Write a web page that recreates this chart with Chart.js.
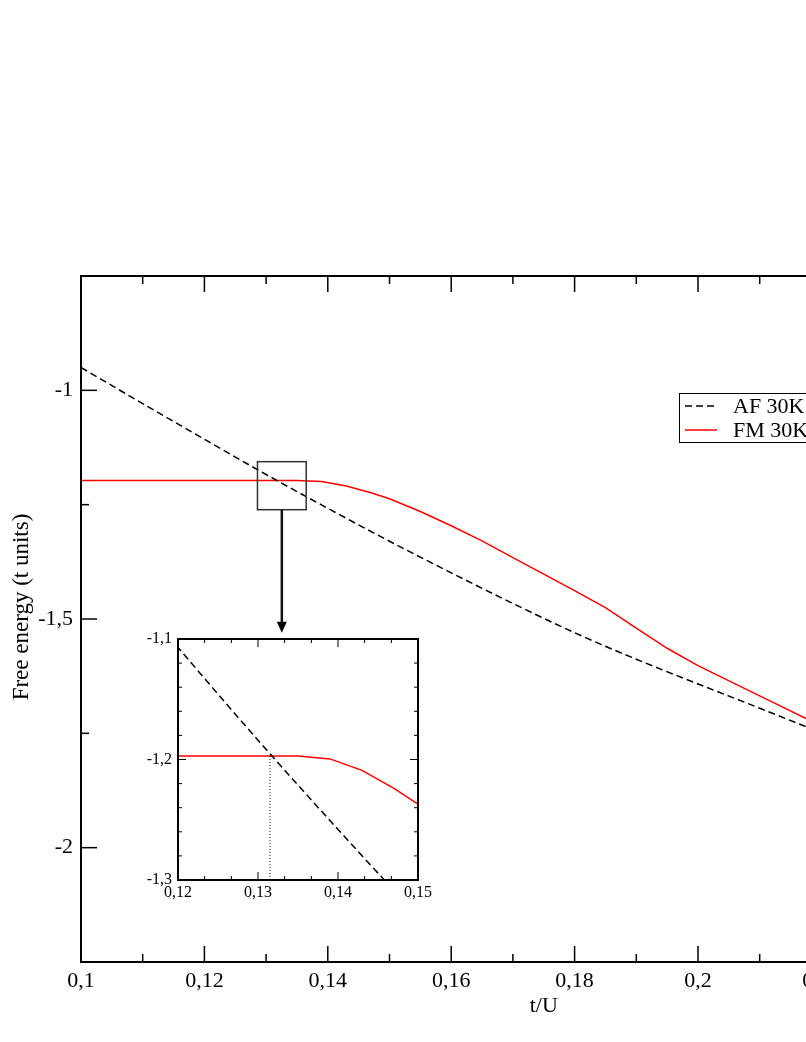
<!DOCTYPE html>
<html><head><meta charset="utf-8">
<script src="https://cdn.jsdelivr.net/npm/chart.js@4.4.1/dist/chart.umd.min.js"></script>
<style>
html,body{margin:0;padding:0;overflow:hidden;background:#fff;width:806px;height:1042px;}
#main{position:absolute;left:0;top:0;}
#inset{position:absolute;left:130px;top:620px;}
</style></head><body>
<canvas id="main" width="1040" height="1042"></canvas>
<canvas id="inset" width="310" height="290"></canvas>
<script>
// ---- data ----
const afT = [0.10,0.11,0.12,0.13,0.14,0.15,0.16,0.17,0.18,0.19,0.20,0.21,0.22];
const afF = [-0.950,-1.029,-1.107,-1.184,-1.258,-1.330,-1.399,-1.466,-1.530,-1.588,-1.642,-1.695,-1.749];
const fmT = [0.10,0.135,0.139,0.143,0.147,0.150,0.155,0.160,0.165,0.170,0.175,0.180,0.185,0.190,0.195,0.200,0.210,0.220];
const fmF = [-1.197,-1.197,-1.1995,-1.209,-1.224,-1.237,-1.265,-1.296,-1.329,-1.366,-1.402,-1.438,-1.475,-1.520,-1.564,-1.602,-1.668,-1.734];
const seriesNames = ['AF 30K','FM 30K'];
const xTitle = 't/U';
const yTitle = 'Free energy (t units)';

const xMajorMain = [0.10,0.12,0.14,0.16,0.18,0.20,0.22,0.24];
const xMinorMain = [0.11,0.13,0.15,0.17,0.19,0.21,0.23];
const yMajorMain = [-2,-1.5,-1];
const yMinorMain = [-1.75,-1.25];

const xMajorInset = [0.12,0.13,0.14,0.15];
const xMinorInset = [0.12333,0.12667,0.13333,0.13667,0.14333,0.14667];
const yMajorInset = [-1.3,-1.2,-1.1];
const yMinorInset = [-1.28,-1.26,-1.24,-1.22,-1.18,-1.16,-1.14,-1.12];

const zoomBox = {x0:0.1286, x1:0.1365, yTop:-1.156, yBot:-1.261, arrowTip:-1.53};
const crossingT = 0.1315, crossingF = -1.197;

const fmt = v => parseFloat(v.toFixed(4)).toString().replace('.', ',');
const serif = 'Liberation Serif';

// ---- plugins ----
const frameTicks = {
  id: 'frameTicks',
  afterDatasetsDraw(chart, args, o) {
    const {ctx, chartArea: a, scales: {x, y}} = chart;
    ctx.save();
    ctx.strokeStyle = '#000';
    ctx.lineWidth = o.tickWidth;
    const seg = (x1, y1, x2, y2) => { ctx.beginPath(); ctx.moveTo(x1, y1); ctx.lineTo(x2, y2); ctx.stroke(); };
    const xt = (vals, len) => vals.forEach(v => {
      const p = x.getPixelForValue(v);
      seg(p, a.top, p, a.top + len); seg(p, a.bottom, p, a.bottom - len);
    });
    const yt = (vals, len) => vals.forEach(v => {
      const p = y.getPixelForValue(v);
      seg(a.left, p, a.left + len, p); seg(a.right, p, a.right - len, p);
    });
    xt(o.xMajor, o.major); xt(o.xMinor, o.minor);
    yt(o.yMajor, o.major); yt(o.yMinor, o.minor);
    ctx.lineWidth = o.frameWidth;
    ctx.strokeRect(a.left, a.top, a.width, a.height);
    ctx.restore();
  }
};

const zoomMarker = {
  id: 'zoomMarker',
  afterDatasetsDraw(chart) {
    const {ctx, scales: {x, y}} = chart;
    const l = x.getPixelForValue(zoomBox.x0), r = x.getPixelForValue(zoomBox.x1);
    const t = y.getPixelForValue(zoomBox.yTop), b = y.getPixelForValue(zoomBox.yBot);
    const tip = y.getPixelForValue(zoomBox.arrowTip);
    const cx = (l + r) / 2;
    ctx.save();
    ctx.strokeStyle = '#333';
    ctx.lineWidth = 1.5;
    ctx.strokeRect(l, t, r - l, b - t);
    ctx.strokeStyle = '#111';
    ctx.lineWidth = 2.5;
    ctx.beginPath(); ctx.moveTo(cx, b); ctx.lineTo(cx, tip - 8); ctx.stroke();
    ctx.fillStyle = '#000';
    ctx.beginPath(); ctx.moveTo(cx - 5, tip - 11); ctx.lineTo(cx + 5, tip - 11); ctx.lineTo(cx, tip); ctx.closePath(); ctx.fill();
    ctx.restore();
  }
};

const yTitlePlugin = {
  id: 'yTitlePlugin',
  afterDraw(chart, args, o) {
    const {ctx} = chart;
    ctx.save();
    ctx.translate(o.x, o.y);
    ctx.rotate(-Math.PI / 2);
    ctx.font = o.size + 'px "' + serif + '"';
    ctx.fillStyle = '#000';
    ctx.textAlign = 'center';
    ctx.textBaseline = 'middle';
    ctx.fillText(o.text, 0, 0);
    ctx.restore();
  }
};

const legendBox = {
  id: 'legendBox',
  afterDraw(chart, args, o) {
    const {ctx} = chart;
    ctx.save();
    ctx.fillStyle = '#fff';
    ctx.fillRect(o.x, o.y, o.w, o.h);
    ctx.strokeStyle = '#000';
    ctx.lineWidth = 1;
    ctx.strokeRect(o.x + 0.5, o.y + 0.5, o.w, o.h);
    ctx.font = '22px "' + serif + '"';
    ctx.textBaseline = 'middle';
    chart.data.datasets.forEach((ds, i) => {
      const yy = o.y + o.row0 + i * o.rowH;
      ctx.strokeStyle = ds.borderColor;
      ctx.lineWidth = ds.borderWidth;
      ctx.setLineDash(ds.borderDash || []);
      ctx.beginPath(); ctx.moveTo(o.x + 6, yy); ctx.lineTo(o.x + 38, yy); ctx.stroke();
      ctx.setLineDash([]);
      ctx.fillStyle = '#000';
      ctx.fillText(ds.label, o.x + 54, yy + 1);
    });
    ctx.restore();
  }
};

const crossingLine = {
  id: 'crossingLine',
  afterDatasetsDraw(chart) {
    const {ctx, scales: {x, y}} = chart;
    const px = x.getPixelForValue(crossingT);
    ctx.save();
    ctx.strokeStyle = '#000';
    ctx.lineWidth = 1;
    ctx.setLineDash([1, 2]);
    ctx.beginPath(); ctx.moveTo(px, y.getPixelForValue(crossingF)); ctx.lineTo(px, y.bottom); ctx.stroke();
    ctx.restore();
  }
};

function makeDatasets() {
  return [
    {label: seriesNames[0], data: afT.map((t, i) => ({x: t, y: afF[i]})), borderColor: '#000000', borderWidth: 1.5,
     borderDash: [7, 4], pointRadius: 0, cubicInterpolationMode: 'monotone', fill: false},
    {label: seriesNames[1], data: fmT.map((t, i) => ({x: t, y: fmF[i]})), borderColor: '#ff0000', borderWidth: 1.5,
     pointRadius: 0, tension: 0, fill: false}
  ];
}

// ---- main chart ----
new Chart(document.getElementById('main'), {
  type: 'line',
  data: {datasets: makeDatasets()},
  options: {
    responsive: false, animation: false, events: [],
    layout: {padding: {top: 276, right: 33.5, bottom: 0, left: 0}},
    plugins: {
      legend: {display: false}, tooltip: {enabled: false},
      frameTicks: {xMajor: xMajorMain, xMinor: xMinorMain, yMajor: yMajorMain, yMinor: yMinorMain,
                   major: 16, minor: 8, tickWidth: 1.5, frameWidth: 2},
      legendBox: {x: 679, y: 393, w: 140, h: 49, row0: 13, rowH: 24},
      yTitlePlugin: {text: yTitle, x: 21.5, y: 607, size: 23}
    },
    scales: {
      x: {
        type: 'linear', min: 0.1, max: 0.25,
        afterBuildTicks: s => { s.ticks = xMajorMain.map(v => ({value: v})); },
        afterFit: s => { s.height = 80; },
        grid: {display: false, drawTicks: false}, border: {display: false},
        ticks: {font: {family: serif, size: 22}, color: '#000', padding: 6, maxRotation: 0, minRotation: 0,
                autoSkip: false, callback: v => fmt(v)},
        title: {display: true, text: xTitle, font: {family: serif, size: 22}, color: '#000', padding: {top: 0, bottom: 23}}
      },
      y: {
        type: 'linear', min: -2.25, max: -0.75,
        afterBuildTicks: s => { s.ticks = yMajorMain.map(v => ({value: v})); },
        afterFit: s => { s.width = 81; },
        grid: {display: false, drawTicks: false}, border: {display: false},
        ticks: {font: {family: serif, size: 22}, color: '#000', padding: 8, autoSkip: false, callback: v => fmt(v)}
      }
    }
  },
  plugins: [frameTicks, zoomMarker, legendBox, yTitlePlugin]
});

// ---- inset chart ----
new Chart(document.getElementById('inset'), {
  type: 'line',
  data: {datasets: makeDatasets()},
  options: {
    responsive: false, animation: false, events: [],
    layout: {padding: {top: 19, right: 22, bottom: 0, left: 0}},
    plugins: {
      legend: {display: false}, tooltip: {enabled: false},
      frameTicks: {xMajor: xMajorInset, xMinor: xMinorInset, yMajor: yMajorInset, yMinor: yMinorInset,
                   major: 8, minor: 4, tickWidth: 1, frameWidth: 2}
    },
    scales: {
      x: {
        type: 'linear', min: 0.12, max: 0.15,
        afterBuildTicks: s => { s.ticks = xMajorInset.map(v => ({value: v})); },
        afterFit: s => { s.height = 30; },
        grid: {display: false, drawTicks: false}, border: {display: false},
        ticks: {font: {family: serif, size: 16}, color: '#000', padding: 3, maxRotation: 0, minRotation: 0,
                autoSkip: false, callback: v => fmt(v)}
      },
      y: {
        type: 'linear', min: -1.3, max: -1.1,
        afterBuildTicks: s => { s.ticks = yMajorInset.map(v => ({value: v})); },
        afterFit: s => { s.width = 48; },
        grid: {display: false, drawTicks: false}, border: {display: false},
        ticks: {font: {family: serif, size: 16}, color: '#000', padding: 6, autoSkip: false, callback: v => fmt(v)}
      }
    }
  },
  plugins: [frameTicks, crossingLine]
});
</script>
</body></html>
